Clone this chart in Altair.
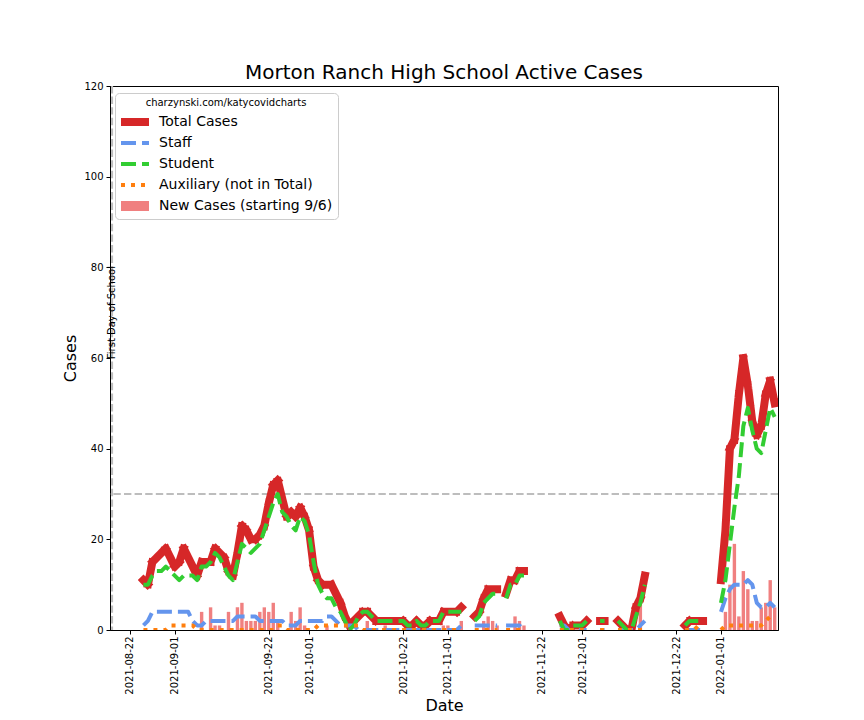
import altair as alt
import pandas as pd

# ---------------- data ----------------
SERIES = ["Total Cases", "Staff", "Student", "Auxiliary (not in Total)", "New Cases (starting 9/6)"]
COLORS = ["#d62728", "#6495ed", "#32cd32", "#ff7f0e", "#f08080"]
DASHES = [[1, 0], [15, 6], [15, 6], [4, 6], [1, 0]]
WIDTHS = [8, 4, 4, 4, 10]

# start date of each contiguous run of daily values
seg_start = ["2021-08-25", "2021-11-07", "2021-11-14", "2021-11-26",
             "2021-12-05", "2021-12-09", "2021-12-24", "2022-01-01"]

total = [
    [11, 10, 15, 16, 17, 18, 16,
     14, 15, 18, 16, 14, 12, 15, 15, 15, 18, 17, 16, 13, 12, 17, 23, 22, 20, 20, 21, 23, 28, 32, 33, 29, 25, 26, 25, 27, 25,
     22, 14, 11, 10, 10, 10, 8, 6, 3, 1, 2, 3, 4, 4, 3, 2, 2, 2, 2, 2, 2, 2, 1, 1, 2, 1, 1, 2, 2, 2, 4,
     4, 4, 4, 5],
    [3, 4, 7, 9, 9, 9],
    [8, 11, 11, 13, 13],
    [3, 1, 0, 1, 1, 1, 2],
    [2, 2],
    [2, 1, 0, 0, 5, 7, 12],
    [1, 2, 2, 2, 2],
    [11, 22, 40, 42, 52, 60, 54, 46, 43, 45, 52, 55, 50],
]
staff = [
    [1, 2, 4, 4, 4, 4, 4,
     4, 4, 4, 4, 2, 1, 1, 2, 2, 2, 2, 2, 2, 2, 3, 3, 3, 3, 3, 2, 2, 2, 2, 2, 2, 1, 1, 1, 2, 2,
     2, 2, 2, 2, 3, 3, 2, 1, 1, 1, 1, 0, 0, 0, 0, 0, 0, 0, 0, 0, 0, 0, 0, 0, 0, 0, 0, 0, 0, 0, 0,
     0, 0, 0, 1],
    [1, 1, 1, 1, 1, 1],
    [1, 1, 1, 1, 0],
    [1, 1, 0, 0, 0, 0, 0],
    [0, 0],
    [0, 0, 0, 0, 0, 1, 2],
    [0, 0, 0, 0, 0],
    [4, 7, 9, 10, 10, 10, 11, 10, 6, 5, 5, 6, 5],
]
student = [
    [10, 10, 12, 13, 13, 14, 13,
     12, 11, 12, 12, 12, 11, 14, 14, 15, 17, 16, 14, 12, 11, 15, 19, 18, 17, 18, 19, 22, 25, 28, 30, 26, 25, 23, 22, 25, 24,
     21, 15, 10, 8, 7, 7, 5, 4, 2, 0, 1, 3, 4, 4, 3, 2, 2, 2, 2, 2, 2, 2, 1, 1, 2, 1, 1, 2, 2, 2, 4,
     4, 4, 4, 4],
    [2, 3, 6, 7, 8, 8],
    [7, 10, 10, 12, 12],
    [2, 0, 0, 1, 1, 1, 2],
    [2, 2],
    [2, 1, 0, 0, 3, 6, 10],
    [1, 2, 2, 2, 2],
    [6, 11, 19, 27, 34, 45, 49, 44, 40, 39, 44, 49, 47],
]
auxiliary = [
    [0, 0, 0, 0, 0, 0, 1,
     1, 1, 1, 1, 1, 0, 0, 0, 0, 0, 0, 0, 0, 0, 0, 0, 0, 0, 0, 0, 0, 0, 0, 1, 1, 0, 0, 0, 0, 0,
     0, 0, 1, 1, 1, 1, 1, 1, 1, 1, 1, 1, 0, 0, 0, 0, 0, 0, 0, 0, 0, 0, 0, 0, 0, 0, 0, 0, 0, 0, 0,
     0, 0, 0, 0],
    [0, 0, 0, 0, 0, 0],
    [0, 0, 0, 0, 0],
    [0, 0, 0, 0, 0, 0, 0],
    [0, 0],
    [0, 0, 0, 0, 0, 0, 0],
    [0, 0, 0, 1, 1],
    [0, 1, 1, 1, 1, 1, 1, 1, 1, 1, 2, 3, 3],
]

new_dates = ["2021-09-07", "2021-09-09", "2021-09-10", "2021-09-11", "2021-09-13", "2021-09-15",
             "2021-09-16", "2021-09-17", "2021-09-18", "2021-09-19", "2021-09-20", "2021-09-21",
             "2021-09-22", "2021-09-23", "2021-09-24", "2021-09-27", "2021-09-28", "2021-09-29",
             "2021-09-30", "2021-10-05", "2021-10-14", "2021-10-18", "2021-10-31", "2021-11-01",
             "2021-11-04", "2021-11-09", "2021-11-10", "2021-11-11", "2021-11-12", "2021-11-16",
             "2021-11-17", "2021-11-18", "2021-12-14", "2022-01-02", "2022-01-03", "2022-01-04",
             "2022-01-05", "2022-01-06", "2022-01-07", "2022-01-08", "2022-01-09", "2022-01-10",
             "2022-01-11", "2022-01-12", "2022-01-13"]
new_cases = [4, 5, 1, 1, 4, 5, 6, 2, 2, 2, 4, 5, 4, 6, 2, 4, 2, 5, 1, 1, 2, 1, 1, 1, 2,
             2, 3, 2, 1, 3, 2, 1, 6, 4, 10, 19, 3, 13, 9, 2, 2, 5, 6, 11, 5]

first_day = "2021-08-18"
threshold = 30
tick_dates = ["2021-08-22", "2021-09-01", "2021-09-22", "2021-10-01", "2021-10-22",
              "2021-11-01", "2021-11-22", "2021-12-01", "2021-12-22", "2022-01-01"]
y_ticks = [0, 20, 40, 60, 80, 100, 120]

# ---------------- tables ----------------
rows = []
for name, series in zip(SERIES[:4], [total, staff, student, auxiliary]):
    for k, (start, vals) in enumerate(zip(seg_start, series)):
        days = pd.date_range(start, periods=len(vals), freq="D")
        for d, v in zip(days, vals):
            rows.append({"date": d.strftime("%Y-%m-%d"), "series": name, "seg": k, "value": v})
lines_df = pd.DataFrame(rows)
bars_df = pd.DataFrame({"date": new_dates, "value": new_cases})
vline_df = pd.DataFrame({"date": [first_day], "value": [70], "label": ["First Day of School"]})
hline_df = pd.DataFrame({"value": [threshold]})

FONT = "DejaVu Sans"


def dt(s, h=0, m=0):
    y, mo, d = (int(p) for p in s.split("-"))
    return alt.DateTime(year=y, month=mo, date=d, hours=h, minutes=m, utc=True)


x_enc = alt.X(
    "date:T",
    scale=alt.Scale(type="utc", domain=[dt("2021-08-17", 12, 48), dt("2022-01-13", 17, 45)],
                    padding=0, nice=False),
    axis=alt.Axis(values=[dt(s) for s in tick_dates], format="%Y-%m-%d", labelAngle=270,
                  title="Date", grid=False, tickSize=4, labelPadding=2, titlePadding=3),
)
y_enc = alt.Y(
    "value:Q",
    scale=alt.Scale(domain=[0, 120], nice=False),
    axis=alt.Axis(values=y_ticks, title="Cases", grid=False, tickSize=4, labelPadding=3,
                  titlePadding=5),
)

legend = alt.Legend(
    title="charzynski.com/katycovidcharts", orient="none", legendX=5, legendY=7,
    titleFontSize=10, titleFont=FONT, titleFontWeight="normal", titleAnchor="middle",
    titleColor="black", titlePadding=6,
    labelFontSize=14, labelFont=FONT, labelColor="black", labelOffset=5, labelLimit=400,
    symbolType="stroke", symbolSize=784, symbolOpacity=1, symbolOffset=-4,
    clipHeight=16, rowPadding=5,
    fillColor="white", strokeColor="#cccccc", cornerRadius=4, padding=5,
)

color_enc = alt.Color("series:N", scale=alt.Scale(domain=SERIES, range=COLORS), legend=legend)
dash_enc = alt.StrokeDash("series:N", scale=alt.Scale(domain=SERIES, range=DASHES), legend=legend)
width_enc = alt.StrokeWidth("series:N", scale=alt.Scale(type="ordinal", domain=SERIES, range=WIDTHS),
                            legend=legend)

hrule = alt.Chart(hline_df).mark_rule(color="#bdbdbd", strokeWidth=2, strokeDash=[7.4, 3.2]).encode(
    y=alt.Y("value:Q"))
vrule = alt.Chart(vline_df).mark_rule(color="#bdbdbd", strokeWidth=2, strokeDash=[7.4, 3.2]).encode(
    x=alt.X("date:T"))
vtext = alt.Chart(vline_df).mark_text(angle=270, fontSize=10, font=FONT, color="black",
                                      align="center", baseline="middle").encode(
    x=alt.X("date:T"), y=alt.Y("value:Q"), text="label:N")

bars = alt.Chart(bars_df).mark_bar(color="#f08080", size=3.4, clip=True).encode(x=x_enc, y=y_enc)

line_layers = []
for name in SERIES[:4]:
    cap = "square" if name == "Total Cases" else "butt"
    line_layers.append(
        alt.Chart(lines_df).transform_filter(alt.datum.series == name)
        .mark_line(strokeJoin="round", strokeCap=cap, clip=True)
        .encode(x=x_enc, y=y_enc, color=color_enc, strokeDash=dash_enc, strokeWidth=width_enc,
                detail="seg:N")
    )

chart = alt.layer(hrule, vrule, bars, *line_layers, vtext).properties(
    width=668, height=544,
    title=alt.TitleParams("Morton Ranch High School Active Cases", fontSize=20, font=FONT,
                          fontWeight="normal", anchor="middle", offset=-2, color="black"),
    autosize=alt.AutoSizeParams(type="none"),
    padding={"left": 102, "top": 78, "right": 60, "bottom": 84},
).configure_view(stroke="black", strokeWidth=1).configure_axis(
    labelFont=FONT, titleFont=FONT, labelFontSize=10, titleFontSize=16, titleFontWeight="normal",
    labelColor="black", titleColor="black", tickColor="black", domainColor="black",
)

chart.save("out.html", embed_options={"renderer": "svg", "actions": False})
